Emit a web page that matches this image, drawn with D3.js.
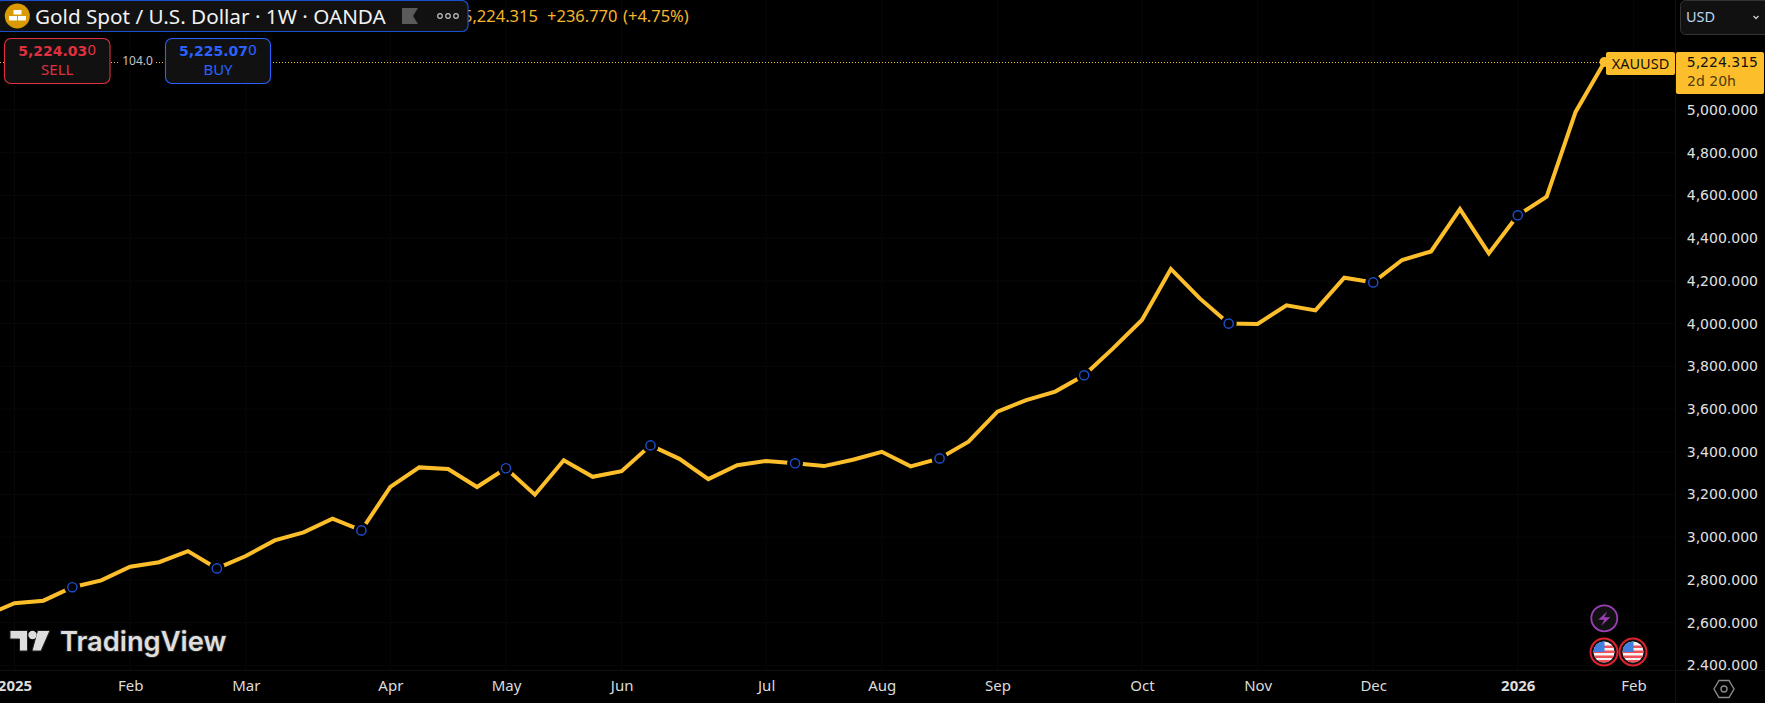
<!DOCTYPE html>
<html lang="en">
<head>
<meta charset="UTF-8">
<title>Gold Spot / U.S. Dollar</title>
<script src="https://cdn.jsdelivr.net/npm/d3@7"></script>
<style>
  html, body { margin: 0; padding: 0; background: #000; overflow: hidden; }
  svg { display: block; }
  .mono { font-family: "DejaVu Sans", sans-serif; }
  .ui { font-family: "Noto Sans", sans-serif; }
</style>
</head>
<body>
<div id="chart"></div>
<script>
// weekly bars, monday of each week
var weeks = ["2024-12-30","2025-01-06","2025-01-13","2025-01-20","2025-01-27","2025-02-03","2025-02-10","2025-02-17",
  "2025-02-24","2025-03-03","2025-03-10","2025-03-17","2025-03-24","2025-03-31","2025-04-07","2025-04-14",
  "2025-04-21","2025-04-28","2025-05-05","2025-05-12","2025-05-19","2025-05-26","2025-06-02","2025-06-09",
  "2025-06-16","2025-06-23","2025-06-30","2025-07-07","2025-07-14","2025-07-21","2025-07-28","2025-08-04",
  "2025-08-11","2025-08-18","2025-08-25","2025-09-01","2025-09-08","2025-09-15","2025-09-22","2025-09-29",
  "2025-10-06","2025-10-13","2025-10-20","2025-10-27","2025-11-03","2025-11-10","2025-11-17","2025-11-24",
  "2025-12-01","2025-12-08","2025-12-15","2025-12-22","2025-12-29","2026-01-05","2026-01-12","2026-01-19","2026-01-26"];
var closes = [2634,2691,2703,2766,2798,2862,2883,2935,2854,2912,2985,3023,3087,3032,3236,3327,3319,3235,3323,3199,
  3360,3283,3309,3430,3367,3272,3337,3357,3346,3333,3363,3400,3332,3369,3447,3588,3642,3682,3758,3884,
  4017,4256,4118,4000,3998,4086,4062,4215,4193,4298,4338,4536,4329,4507,4594,4991,5224.315];
// weeks that carry a blue idea marker
var markerWeeks = ["2025-01-20","2025-02-24","2025-03-31","2025-05-05","2025-06-09","2025-07-14","2025-08-18",
  "2025-09-22","2025-10-27","2025-12-01","2026-01-05"];
var priceTicks = [2400,2600,2800,3000,3200,3400,3600,3800,4000,4200,4400,4600,4800,5000];
var timeTicks = ["2025-01-06","2025-02-03","2025-03-03","2025-04-07","2025-05-05","2025-06-02","2025-07-07",
  "2025-08-04","2025-09-01","2025-10-06","2025-11-03","2025-12-01","2026-01-05","2026-02-02"];
var timeLabels = ["2025","Feb","Mar","Apr","May","Jun","Jul","Aug","Sep","Oct","Nov","Dec","2026","Feb"];

var W = 1765, H = 703, plotW = 1675, plotH = 670;
var gold = "#fdbe2c", blue = "#1c4fd0", red = "#f23645", buyBlue = "#2962ff", panel = "#111111";

var parse = d3.utcParse("%Y-%m-%d");
var data = weeks.map(function(w, i) { return { date: parse(w), close: closes[i] }; });

var x = d3.scaleUtc()
  .domain([parse(weeks[0]), parse(weeks[weeks.length - 1])])
  .range([-14.4, 1604.5]);
var y = d3.scaleLinear()
  .domain([2400, 5000])
  .range([665.4, 110]);

var svg = d3.select("#chart").append("svg").attr("width", W).attr("height", H);
svg.append("rect").attr("width", W).attr("height", H).attr("fill", "#000");

var defs = svg.append("defs");
defs.append("clipPath").attr("id", "plotClip").append("rect").attr("width", plotW).attr("height", plotH);
defs.append("clipPath").attr("id", "axisClip").append("rect").attr("x", plotW).attr("width", W - plotW).attr("height", plotH);

// grid
var grid = svg.append("g").attr("clip-path", "url(#plotClip)").attr("stroke", "#080808");
grid.selectAll(".h").data(priceTicks).enter().append("line")
  .attr("x1", 0).attr("x2", plotW).attr("y1", function(d) { return y(d); }).attr("y2", function(d) { return y(d); });
grid.selectAll(".v").data(timeTicks).enter().append("line")
  .attr("y1", 0).attr("y2", plotH)
  .attr("x1", function(d) { return x(parse(d)); }).attr("x2", function(d) { return x(parse(d)); });
svg.append("line").attr("x1", plotW + 0.5).attr("x2", plotW + 0.5).attr("y1", 0).attr("y2", H).attr("stroke", "#101010");
svg.append("line").attr("x1", 0).attr("x2", W).attr("y1", plotH + 0.5).attr("y2", plotH + 0.5).attr("stroke", "#101010");

// last price dotted line
var lastPrice = closes[closes.length - 1];
svg.append("line")
  .attr("x1", 0).attr("x2", x(data[data.length - 1].date))
  .attr("y1", 62.5).attr("y2", 62.5)
  .attr("stroke", gold).attr("stroke-width", 1).attr("stroke-dasharray", "1 2");

// price line
var line = d3.line()
  .x(function(d) { return x(d.date); })
  .y(function(d) { return y(d.close); });
var plot = svg.append("g").attr("clip-path", "url(#plotClip)");
plot.append("path").datum(data)
  .attr("fill", "none").attr("stroke", gold).attr("stroke-width", 4)
  .attr("stroke-linejoin", "miter").attr("d", line);

// idea markers
var markers = data.filter(function(d) { return markerWeeks.indexOf(d3.utcFormat("%Y-%m-%d")(d.date)) >= 0; });
plot.selectAll("circle.gap").data(markers).enter().append("circle").attr("class", "gap")
  .attr("cx", function(d) { return x(d.date); }).attr("cy", function(d) { return y(d.close); })
  .attr("r", 8).attr("fill", "#000");
plot.selectAll("circle.idea").data(markers).enter().append("circle").attr("class", "idea")
  .attr("cx", function(d) { return x(d.date); }).attr("cy", function(d) { return y(d.close); })
  .attr("r", 4.6).attr("fill", "#000").attr("stroke", blue).attr("stroke-width", 1.4);

// end point
plot.append("circle").attr("cx", x(data[data.length - 1].date)).attr("cy", y(lastPrice))
  .attr("r", 5).attr("fill", gold);

// price axis
var yAxis = d3.axisRight(y).tickValues(priceTicks).tickSize(0).tickPadding(0)
  .tickFormat(function(d) { return d3.format(",.3f")(d); });
var yG = svg.append("g").attr("clip-path", "url(#axisClip)").append("g")
  .attr("transform", "translate(1758,0)").call(yAxis);
yG.select(".domain").remove();
yG.selectAll("text").attr("x", 0).attr("text-anchor", "end")
  .attr("class", "mono").attr("font-size", 14).attr("fill", "#e0e0e0");

// time axis
var xAxis = d3.axisBottom(x).tickValues(timeTicks.map(parse)).tickSize(0).tickPadding(0)
  .tickFormat(function(d, i) { return timeLabels[i]; });
var xG = svg.append("g").attr("transform", "translate(0,680)").call(xAxis);
xG.select(".domain").remove();
xG.selectAll("text").attr("y", 0).attr("dy", "0.71em")
  .attr("class", "ui").attr("font-size", 15).attr("fill", "#dcdcdc")
  .attr("font-weight", function(d, i) { return timeLabels[i].length === 4 ? 700 : 400; });

// value readout, partly under the legend box
var readout = svg.append("text").attr("class", "ui").attr("y", 22).attr("font-size", 16.5).attr("fill", "#f5b52c");
readout.append("tspan").attr("x", 463).text("5,224.315");
readout.append("tspan").attr("x", 547).text("+236.770");
readout.append("tspan").attr("x", 623).text("(+4.75%)");

// legend box
svg.append("rect").attr("x", -4).attr("y", 0.5).attr("width", 472).attr("height", 31)
  .attr("rx", 6).attr("fill", panel).attr("stroke", "#1c4fd0").attr("stroke-width", 1.2);
svg.append("circle").attr("cx", 17.3).attr("cy", 16).attr("r", 12.5).attr("fill", "#d99a06");
svg.append("g").attr("fill", "#fff").selectAll("rect")
  .data([[13.5, 10, 8], [9, 16, 8], [18, 16, 8]]).enter().append("rect")
  .attr("x", function(d) { return d[0]; }).attr("y", function(d) { return d[1]; })
  .attr("width", function(d) { return d[2]; }).attr("height", 4.5);
svg.append("text").attr("class", "ui").attr("x", 35).attr("y", 23.5).attr("font-size", 20.7).attr("fill", "#f2f2f2")
  .text("Gold Spot / U.S. Dollar \u00b7 1W \u00b7 OANDA");
svg.append("path").attr("d", "M402 8H418L413 16L418 24H402Z").attr("fill", "#5a5a5a");
svg.append("g").selectAll("circle").data([440, 448, 456]).enter().append("circle")
  .attr("cx", function(d) { return d; }).attr("cy", 16).attr("r", 2.3)
  .attr("fill", "none").attr("stroke", "#bdbdbd").attr("stroke-width", 1.2);

// sell / buy buttons
function orderBox(x0, w, col, price, label) {
  svg.append("rect").attr("x", x0).attr("y", 38.5).attr("width", w).attr("height", 45)
    .attr("rx", 6.5).attr("fill", panel).attr("stroke", col).attr("stroke-width", 1.1);
  var t = svg.append("text").attr("x", x0 + w / 2).attr("y", 56).attr("text-anchor", "middle").attr("class", "mono").attr("fill", col);
  t.append("tspan").attr("font-size", 14).attr("font-weight", 700).text(price);
  t.append("tspan").attr("font-size", 14).attr("dy", -1.5).text("0");
  svg.append("text").attr("x", x0 + w / 2).attr("y", 75).attr("text-anchor", "middle").attr("class", "ui")
    .attr("font-size", 15).attr("fill", col).text(label);
}
orderBox(4.5, 105.5, "#e0303f", "5,224.03", "SELL");
orderBox(165.5, 105, buyBlue, "5,225.07", "BUY");
svg.append("rect").attr("x", 120).attr("y", 54).attr("width", 35).attr("height", 16).attr("fill", "#000");
svg.append("text").attr("x", 137.5).attr("y", 65).attr("text-anchor", "middle").attr("class", "ui")
  .attr("font-size", 12).attr("fill", "#c4c4c4").text("104.0");

// currency button
svg.append("rect").attr("x", 1680.5).attr("y", 0.5).attr("width", 90).attr("height", 34)
  .attr("rx", 5).attr("fill", panel).attr("stroke", "#333");
svg.append("text").attr("class", "ui").attr("x", 1686).attr("y", 22).attr("font-size", 14.5).attr("fill", "#bcd6f2").text("USD");
svg.append("path").attr("d", "M1753.5 16L1756 18.5L1758.5 16").attr("fill", "none").attr("stroke", "#ccc").attr("stroke-width", 1.3);

// last price tags
svg.append("rect").attr("x", 1606).attr("y", 52).attr("width", 69).attr("height", 23).attr("rx", 2).attr("fill", gold);
svg.append("text").attr("class", "ui").attr("x", 1640.5).attr("y", 69).attr("text-anchor", "middle")
  .attr("font-size", 14.5).attr("fill", "#111").text("XAUUSD");
svg.append("rect").attr("x", 1676).attr("y", 52).attr("width", 88).attr("height", 42).attr("rx", 2).attr("fill", gold);
svg.append("text").attr("class", "mono").attr("x", 1758).attr("y", 67).attr("text-anchor", "end")
  .attr("font-size", 14).attr("fill", "#111").text("5,224.315");
svg.append("text").attr("class", "mono").attr("x", 1687).attr("y", 86)
  .attr("font-size", 14).attr("fill", "#4f3c0e").text("2d 20h");

// event icons
var bolt = svg.append("g").attr("transform", "translate(1604.3,618.3)");
bolt.append("circle").attr("r", 13).attr("fill", panel).attr("stroke", "#9c3fb5").attr("stroke-width", 1.8);
bolt.append("path").attr("d", "M3 -7L-6 1.5H0L-3 7.5L6 -1H0Z").attr("fill", "#9c3fb5");
[1604, 1633].forEach(function(cx) {
  var f = svg.append("g").attr("transform", "translate(" + cx + ",652)");
  f.append("circle").attr("r", 13.5).attr("fill", "#111").attr("stroke", "#e0202f").attr("stroke-width", 2);
  f.append("circle").attr("r", 10.5).attr("fill", "#f4f4f4");
  var id = "flag" + cx;
  defs.append("clipPath").attr("id", id).append("circle").attr("r", 10.5);
  var s = f.append("g").attr("clip-path", "url(#" + id + ")");
  [-6.5, -1.5, 3.5, 8].forEach(function(sy) {
    s.append("rect").attr("x", -11).attr("y", sy).attr("width", 22).attr("height", 2.5).attr("fill", "#f0505a");
  });
  s.append("rect").attr("x", -11).attr("y", -11).attr("width", 11.5).attr("height", 11).attr("fill", "#3f7fe0");
});

// gear
var gear = svg.append("g").attr("transform", "translate(1724,689)").attr("fill", "none").attr("stroke", "#8a8a8a").attr("stroke-width", 1.4);
gear.append("path").attr("d", "M-10 0L-5 -8.5H5L10 0L5 8.5H-5Z");
gear.append("circle").attr("r", 3);

// watermark
var wm = svg.append("g");
wm.append("path").attr("d", "M10 630.5H27.5V651H19.5V639H10Z M37.5 630.5H50L41 651H32Z")
  .attr("fill", "#dedede").attr("stroke", "#222").attr("stroke-width", 1);
wm.append("circle").attr("cx", 32.5).attr("cy", 635).attr("r", 4.2).attr("fill", "#dedede");
wm.append("text").attr("x", 60).attr("y", 650.5)
  .style("font-family", "Inter, sans-serif").attr("font-weight", 600).attr("font-size", 27.3).attr("fill", "#dedede")
  .attr("stroke", "#222").attr("stroke-width", 2).attr("paint-order", "stroke").text("TradingView");
</script>
</body>
</html>
